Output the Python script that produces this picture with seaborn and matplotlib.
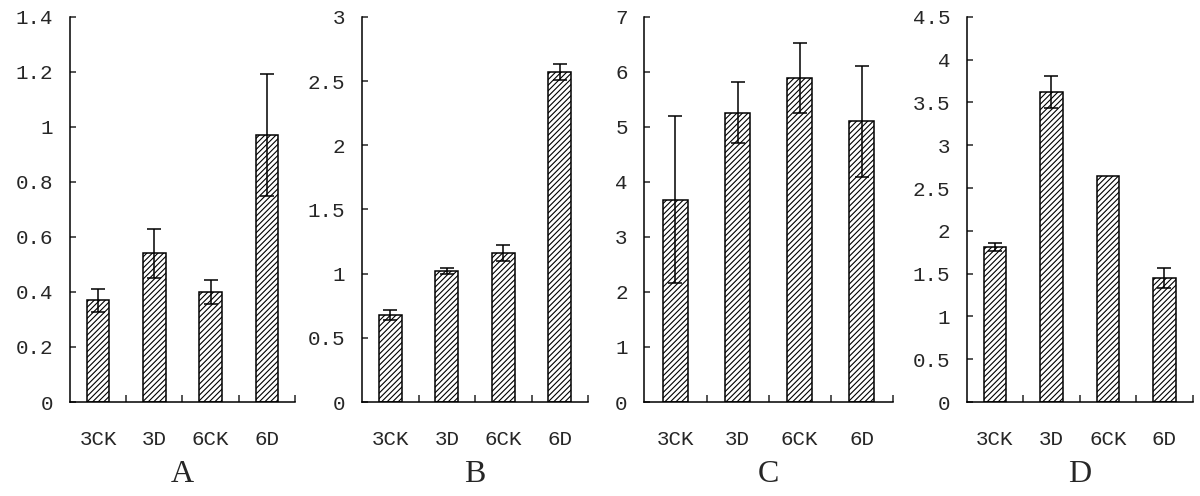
import pandas as pd
import seaborn as sns
import matplotlib.pyplot as plt

# data
groups = ['3CK', '3D', '6CK', '6D']
panels = ['A', 'B', 'C', 'D']

mean_a = [0.37, 0.54, 0.40, 0.97]
err_a = [0.042, 0.088, 0.044, 0.222]
mean_b = [0.68, 1.02, 1.16, 2.57]
err_b = [0.04, 0.025, 0.062, 0.065]
mean_c = [3.68, 5.26, 5.89, 5.10]
err_c = [1.51, 0.56, 0.63, 1.01]
mean_d = [1.81, 3.62, 2.645, 1.45]
err_d = [0.05, 0.19, 0.0, 0.12]

y_max = [1.4, 3, 7, 4.5]
y_step = [0.2, 0.5, 1, 0.5]

sns.set_style('ticks')
plt.rcParams['hatch.linewidth'] = 0.8
plt.rcParams['font.family'] = ['Liberation Mono', 'DejaVu Sans']

fig = plt.figure(figsize=(12, 4.96), dpi=100)
lefts = [0.0583, 0.3017, 0.537, 0.8056]
rights = [0.2458, 0.49, 0.744, 0.9939]
bottom, top = 0.1895, 0.9660

means = [mean_a, mean_b, mean_c, mean_d]
errs = [err_a, err_b, err_c, err_d]

for i in range(4):
    ax = fig.add_axes([lefts[i], bottom, rights[i] - lefts[i], top - bottom])
    df = pd.DataFrame({'group': groups, 'value': means[i], 'err': errs[i]})
    sns.barplot(data=df, x='group', y='value', ax=ax, width=0.4,
                color='white', edgecolor='black', linewidth=1.1,
                hatch='//////', errorbar=None, saturation=1)
    e = df[df['err'] > 0]
    ax.errorbar(e.index, e['value'], yerr=e['err'], fmt='none',
                ecolor='black', elinewidth=1.1, capsize=5, capthick=1.1)

    ax.set_xlim(-0.5, 3.5)
    ax.set_ylim(0, y_max[i])
    ticks = [round(k * y_step[i], 2) for k in range(int(round(y_max[i] / y_step[i])) + 1)]
    ax.set_yticks(ticks)
    ax.set_yticklabels(['{:g}'.format(t) for t in ticks])
    ax.set_xticks(range(4))
    ax.set_xticklabels(groups)
    ax.set_xticks([0.5, 1.5, 2.5, 3.5], minor=True)
    ax.tick_params(axis='x', which='major', length=0, pad=20, labelsize=15)
    ax.tick_params(axis='x', which='minor', direction='in', length=5, width=1.1)
    ax.tick_params(axis='y', direction='in', length=4, width=1.1, pad=12,
                   labelsize=15)
    ax.set_ylabel('')
    ax.set_xlabel(panels[i], fontsize=23, family='Liberation Serif', labelpad=8)
    sns.despine(ax=ax)
    for s in ['left', 'bottom']:
        ax.spines[s].set_linewidth(1.1)
        ax.spines[s].set_color('black')

fig.savefig('out.png', dpi=100)
